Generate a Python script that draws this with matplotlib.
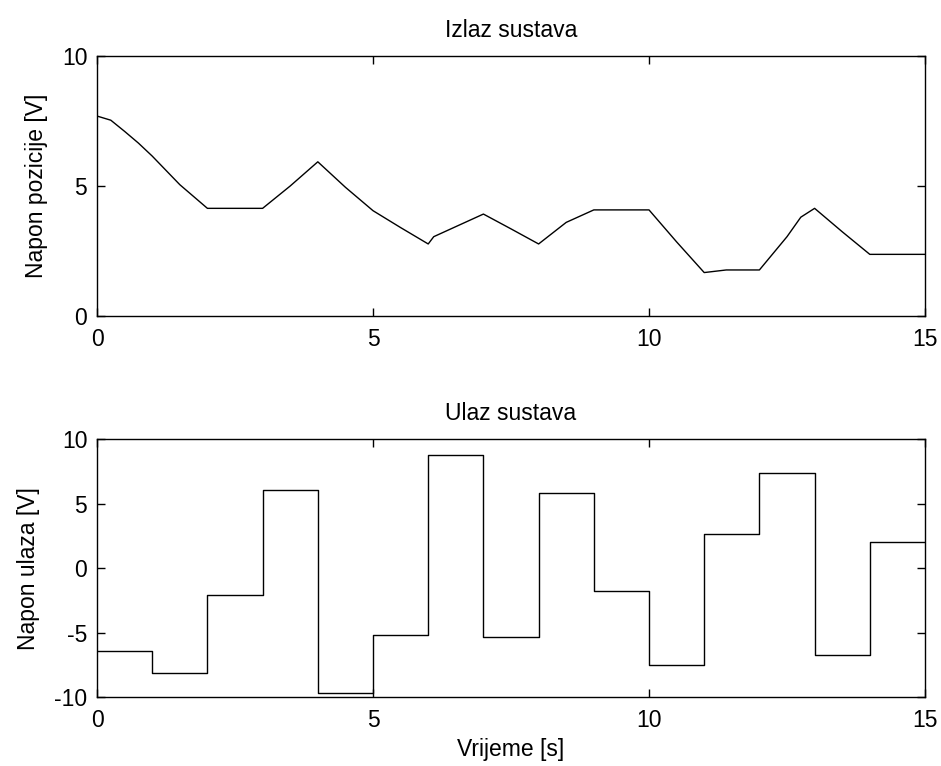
import matplotlib
matplotlib.use("Agg")
import matplotlib.pyplot as plt

plt.rcParams['font.family'] = ['Liberation Sans', 'DejaVu Sans']
plt.rcParams['axes.unicode_minus'] = False

# output of the system (position voltage)
t_out = [0.0, 0.25, 0.5, 0.75, 1.0, 1.5, 2.0, 3.0, 3.5, 4.0, 4.5, 5.0, 5.5,
         6.0, 6.1, 7.0, 7.5, 8.0, 8.5, 9.0, 10.0, 10.5, 11.0, 11.4, 12.0,
         12.5, 12.75, 13.0, 13.5, 14.0, 15.0]
v_out = [7.69, 7.53, 7.1, 6.65, 6.15, 5.05, 4.14, 4.14, 5.0, 5.93, 4.95, 4.05, 3.4,
         2.77, 3.05, 3.92, 3.35, 2.77, 3.6, 4.08, 4.08, 2.85, 1.67, 1.77, 1.77,
         3.05, 3.8, 4.14, 3.24, 2.37, 2.37]

# input of the system (piecewise constant, one value per second)
t_in = list(range(16))
v_in = [-6.45, -8.16, -2.09, 6.1, -9.71, -5.22, 8.78, -5.35, 5.87, -1.78,
        -7.54, 2.69, 7.39, -6.77, 2.04]
v_in_steps = v_in + [v_in[-1]]

fs = 16.5

fig = plt.figure(figsize=(9.41, 7.66), dpi=100)
ax1 = fig.add_axes([0.1031, 0.5875, 0.8799, 0.3394])
ax2 = fig.add_axes([0.1031, 0.0901, 0.8799, 0.3362])

ax1.plot(t_out, v_out, color='black', lw=1.0)
ax1.set_xlim(0, 15)
ax1.set_ylim(0, 10)
ax1.set_xticks([0, 5, 10, 15])
ax1.set_yticks([0, 5, 10])
ax1.set_title("Izlaz sustava", fontsize=fs, pad=14)
ax1.set_ylabel("Napon pozicije [V]", fontsize=fs, labelpad=10)

ax2.plot(t_in, v_in_steps, color='black', lw=1.0, drawstyle='steps-post')
ax2.set_xlim(0, 15)
ax2.set_ylim(-10, 10)
ax2.set_xticks([0, 5, 10, 15])
ax2.set_yticks([-10, -5, 0, 5, 10])
ax2.set_title("Ulaz sustava", fontsize=fs, pad=14)
ax2.set_ylabel("Napon ulaza [V]", fontsize=fs, labelpad=10)
ax2.set_xlabel("Vrijeme [s]", fontsize=fs, labelpad=4)

for ax in (ax1, ax2):
    ax.tick_params(direction='in', length=6, width=1.0, labelsize=fs,
                   top=True, right=True)
    ax.tick_params(axis='x', pad=9)
    ax.tick_params(axis='y', pad=7)
    for s in ax.spines.values():
        s.set_linewidth(1.0)

fig.savefig("out.png", dpi=100)
